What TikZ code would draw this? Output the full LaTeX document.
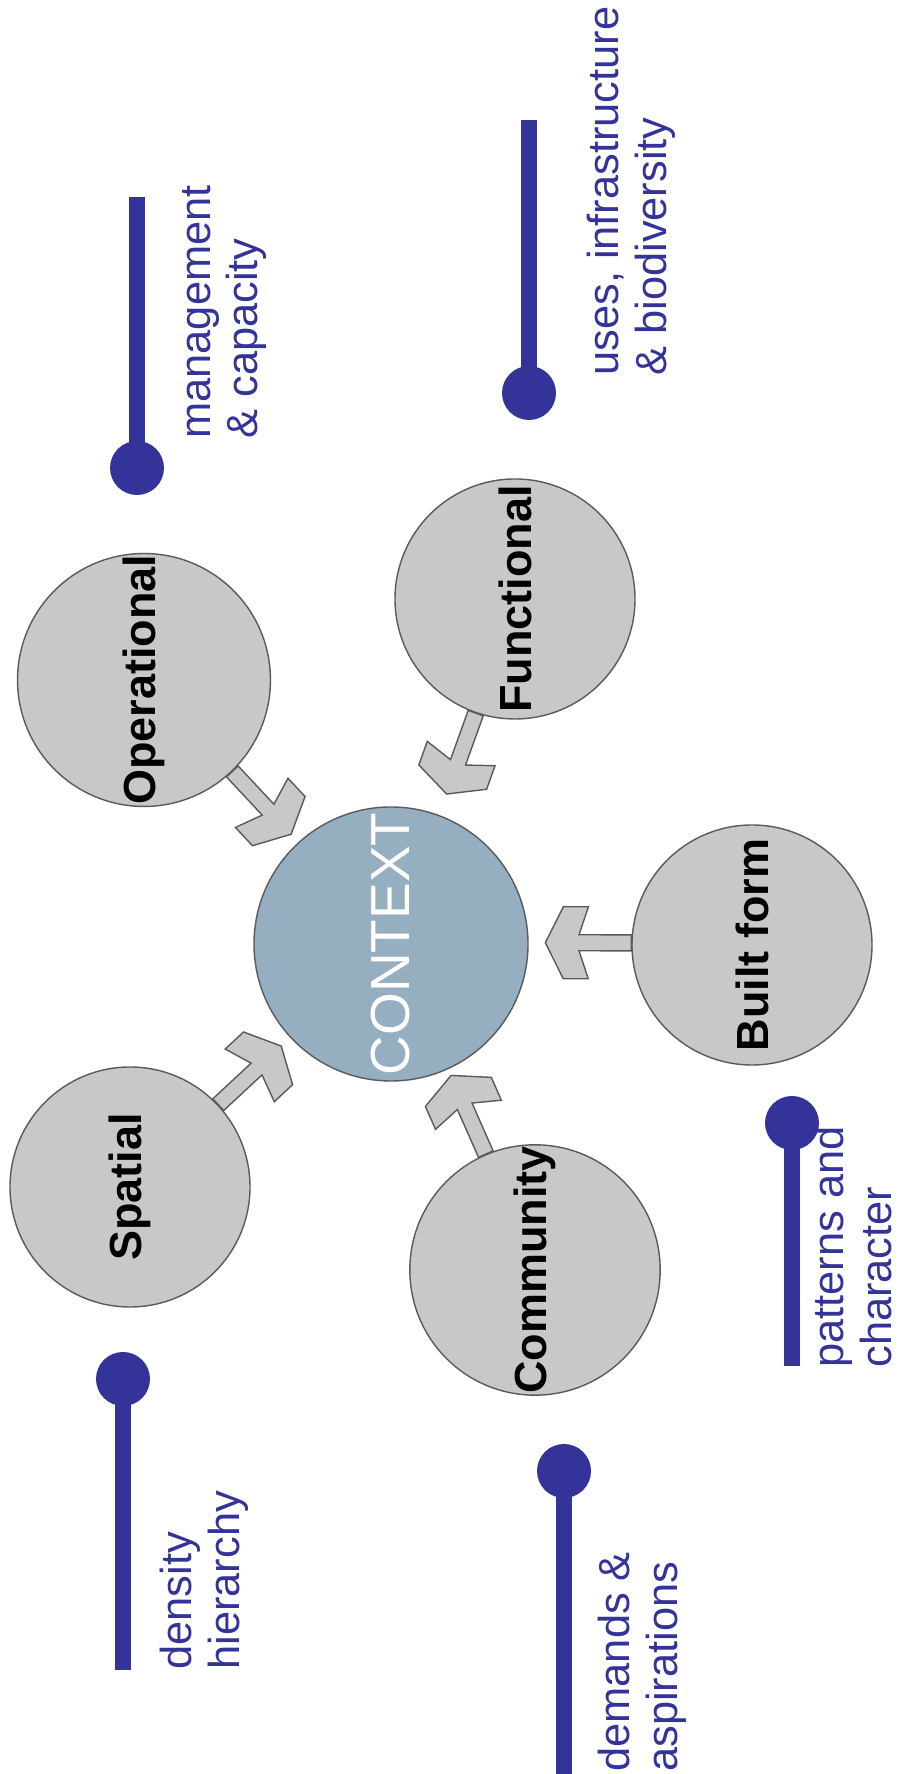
\documentclass[tikz,border=0pt]{standalone}
\usepackage{fontspec}
\setmainfont{Liberation Sans}
\usetikzlibrary{calc}
\definecolor{ring}{HTML}{C8C8C8}
\definecolor{core}{HTML}{95AEC0}
\definecolor{rim}{HTML}{5A5A5A}
\definecolor{note}{HTML}{333399}
\tikzset{core/.style={circle,draw=rim,line width=0.8pt,fill=core,text=white,minimum size=5.48cm,inner sep=0pt,font=\fontsize{31.3}{36}\selectfont}}
\tikzset{ring/.style={circle,draw=rim,line width=0.8pt,fill=ring,minimum size=4.8cm,inner sep=0pt,font=\fontsize{25.6}{30}\selectfont\bfseries}}
\tikzset{note/.style={text=note,rotate=90,anchor=north west,align=left,inner sep=0pt,font=\fontsize{24.7}{27}\selectfont}}
\tikzset{notedot/.style={circle,fill=note,minimum size=1.08cm,inner sep=0pt}}
\tikzset{notebar/.style={draw=note,line width=0.32cm}}
\tikzset{feed/.style={draw=rim,fill=ring,line width=0.8pt,line join=miter}}
\tikzset{chev/.pic={\path[feed] (0,0.16) -- (1.046,0.16) -- (0.86,0.72) -- (1.36,0.72) -- (1.72,0) -- (1.36,-0.72) -- (0.86,-0.72) -- (1.046,-0.16) -- (0,-0.16) -- cycle;}}
\newcommand{\feedarrow}[2]{\path let \p1=($(#2)-(#1)$), \n1={atan2(\y1,\x1)}, \n2={\n1-90} in pic[rotate=\n1] at (#1.\n2) {chev};}

\begin{document}
\begin{tikzpicture}
            \useasboundingbox (0,0) rectangle (17.98,35.48);

            \node[core,rotate=90] (ctx) at (7.82,16.60) {CONTEXT};
            \node[ring,rotate=90] (op) at (2.88,21.88) {Operational};
            \node[ring,rotate=90] (fu) at (10.30,23.50) {Functional};
            \node[ring,rotate=90] (sp) at (2.60,11.74) {Spatial};
            \node[ring,rotate=90] (bf) at (15.04,16.58) {Built form};
            \node[ring,rotate=90] (co) at (10.70,10.08) {Community};
            \feedarrow{op}{ctx}
            \feedarrow{fu}{ctx}
            \feedarrow{sp}{ctx}
            \feedarrow{bf}{ctx}
            \feedarrow{co}{ctx}

            % blue notes
            \coordinate (mgend) at (2.74,31.54);
            \node[notedot] (mgdot) at (2.74,26.12) {};
            \draw[notebar] (mgdot.center) -- (mgend);
            \node[note] (mgtext) at (3.64,26.70) {management\\\& capacity};

            \coordinate (usend) at (10.58,33.08);
            \node[notedot] (usdot) at (10.58,27.62) {};
            \draw[notebar] (usdot.center) -- (usend);
            \node[note] (ustext) at (11.74,27.96) {uses, infrastructure\\\& biodiversity};

            \coordinate (deend) at (2.46,2.08);
            \node[notedot] (dedot) at (2.46,7.90) {};
            \draw[notebar] (dedot.center) -- (deend);
            \node[note] (detext) at (3.20,2.08) {density\\hierarchy};

            \coordinate (dmend) at (11.28,0);
            \node[notedot] (dmdot) at (11.28,6.06) {};
            \draw[notebar] (dmdot.center) -- (dmend);
            \node[note] (dmtext) at (11.96,0.04) {demands \&\\aspirations};

            \coordinate (ptend) at (15.84,8.16);
            \node[notedot] (ptdot) at (15.84,13.02) {};
            \draw[notebar] (ptdot.center) -- (ptend);
            \node[note] (pttext) at (16.24,8.12) {patterns and\\character};
\end{tikzpicture}
\end{document}
